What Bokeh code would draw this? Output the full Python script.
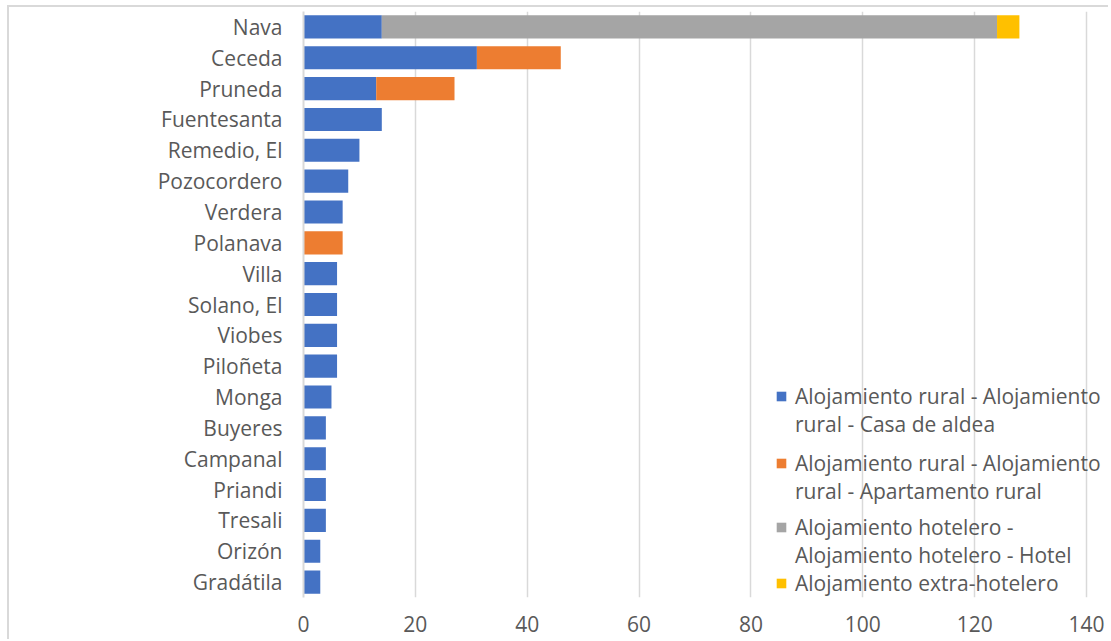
from bokeh.plotting import figure
from bokeh.models import (FactorRange, Legend, LegendItem, ColumnDataSource,
                          SingleIntervalTicker)
from bokeh.embed import file_html
from bokeh.resources import INLINE

places = ["Nava", "Ceceda", "Pruneda", "Fuentesanta", "Remedio, El", "Pozocordero",
          "Verdera", "Polanava", "Villa", "Solano, El", "Viobes", "Piloñeta", "Monga",
          "Buyeres", "Campanal", "Priandi", "Tresali", "Orizón", "Gradátila"]
casa_aldea = [14, 31, 13, 14, 10, 8, 7, 0, 6, 6, 6, 6, 5, 4, 4, 4, 4, 3, 3]
apartamento = [0, 15, 14, 0, 0, 0, 0, 7, 0, 0, 0, 0, 0, 0, 0, 0, 0, 0, 0]
hotel = [110, 0, 0, 0, 0, 0, 0, 0, 0, 0, 0, 0, 0, 0, 0, 0, 0, 0, 0]
extra = [4, 0, 0, 0, 0, 0, 0, 0, 0, 0, 0, 0, 0, 0, 0, 0, 0, 0, 0]

series_keys = ["casa", "apto", "hotel", "extra"]
series_labels = [["Alojamiento rural - Alojamiento", "rural - Casa de aldea"],
                 ["Alojamiento rural - Alojamiento", "rural - Apartamento rural"],
                 ["Alojamiento hotelero -", "Alojamiento hotelero - Hotel"],
                 ["Alojamiento extra-hotelero"]]
colors = ["#4472C4", "#ED7D31", "#A5A5A5", "#FFC000"]

src = ColumnDataSource(dict(place=places, casa=casa_aldea, apto=apartamento,
                            hotel=hotel, extra=extra))

FONT = "Open Sans"
TXT = "#595959"
GRID = "#d9d9d9"
FS = "21px"

p = figure(width=1108, height=639, output_backend="svg", toolbar_location=None,
           y_range=FactorRange(*list(reversed(places))),
           x_range=(0, 143.93),
           min_border_left=303, min_border_right=0, min_border_top=11, min_border_bottom=42)
p.y_range.range_padding = 0
p.y_range.factor_padding = 0

renderers = p.hbar_stack(series_keys, y="place", height=0.75, color=colors, source=src,
                         line_color=None)
# invisible renderer used for the second text line of wrapped legend entries
blank = p.scatter(x=[], y=[], fill_alpha=0, line_alpha=0)

p.outline_line_color = None
p.border_fill_color = None
p.background_fill_color = "white"
p.styles = {"vertical-align": "top",
            "background-color": "white",
            "box-shadow": "inset 7px 5px 0 0 white, inset 9px 7px 0 0 #d9d9d9"}
p.xgrid.grid_line_color = GRID
p.xgrid.grid_line_width = 1.5
p.ygrid.grid_line_color = None

p.xaxis.ticker = SingleIntervalTicker(interval=20)
p.xaxis.axis_line_color = None
p.xaxis.major_tick_line_color = None
p.xaxis.minor_tick_line_color = None
p.xaxis.major_tick_out = 0
p.xaxis.major_tick_in = 0
p.xaxis.major_label_standoff = 14
p.yaxis.axis_line_color = GRID
p.yaxis.axis_line_width = 2
p.yaxis.major_tick_line_color = None
p.yaxis.minor_tick_line_color = None
p.yaxis.major_tick_out = 0
p.yaxis.major_tick_in = 0
p.yaxis.major_label_standoff = 21
for ax in (p.xaxis[0], p.yaxis[0]):
    ax.major_label_text_font = FONT
    ax.major_label_text_font_size = FS
    ax.major_label_text_color = TXT

# one legend per series so that wrapped labels keep their square on the first line
legend_bottoms = [159, 92, 28, 0]
for labels, r, yb in zip(series_labels, renderers, legend_bottoms):
    items = [LegendItem(label=labels[0], renderers=[r])]
    for extra_line in labels[1:]:
        items.append(LegendItem(label=extra_line, renderers=[blank]))
    lg = Legend(items=items, location=(472, yb))
    lg.background_fill_alpha = 0
    lg.border_line_alpha = 0
    lg.label_text_font = FONT
    lg.label_text_font_size = FS
    lg.label_text_color = TXT
    lg.glyph_width = 12
    lg.glyph_height = 12
    lg.label_standoff = 8
    lg.label_height = 20
    lg.spacing = -3
    lg.margin = 0
    lg.padding = 0
    p.add_layout(lg)

open("out.html", "w").write(file_html(p, INLINE))
